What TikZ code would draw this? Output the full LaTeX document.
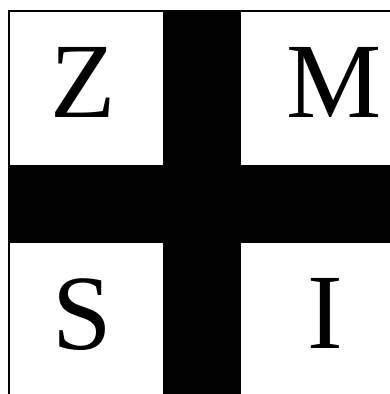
\documentclass[tikz,border=0pt]{standalone}
\usepackage{fontspec}
\setmainfont{Liberation Serif}
\begin{document}
\begin{tikzpicture}[x=1pt,y=-1pt,
  letter/.style={inner sep=0pt,anchor=base,font=\fontsize{107}{107}\selectfont}]
\useasboundingbox (0,0) rectangle (390,394);
\fill[white] (0,0) rectangle (390,394);
\fill[black] (8,10) rectangle (390,394);
\fill[white] (10,12) rectangle (163,165);
\fill[white] (241,12) rectangle (390,165);
\fill[white] (10,243) rectangle (163,394);
\fill[white] (241,243) rectangle (390,394);
\node[letter] (z) at (83,117) {Z};
\node[letter] (m) at (334,117) {M};
\node[letter] (s) at (82,349) {S};
\node[letter] (i) at (325,348) {I};
\end{tikzpicture}
\end{document}
